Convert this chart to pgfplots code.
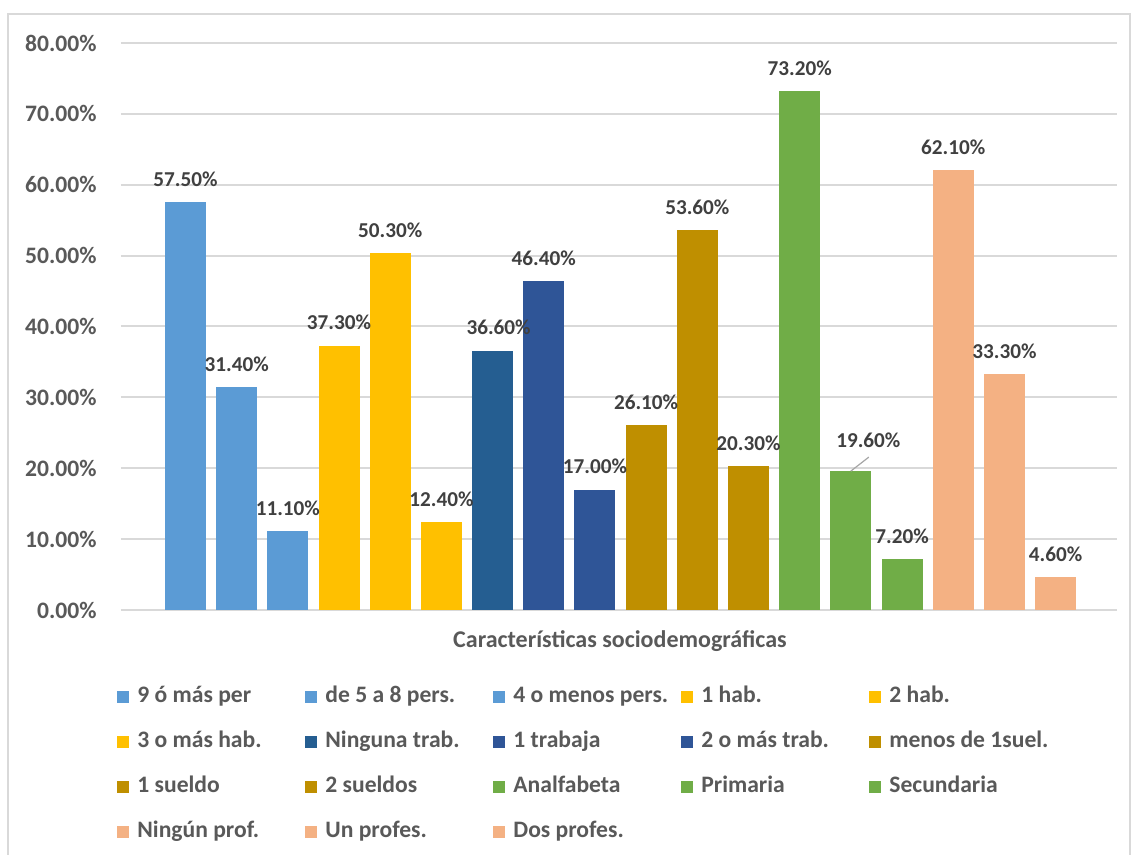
\documentclass[border=0pt]{standalone}
\usepackage{pgfplots}
\pgfplotsset{compat=1.18}
\usepackage{fontspec}
\setmainfont{Carlito}
\definecolor{cBlue}{HTML}{5B9BD5}
\definecolor{cYel}{HTML}{FFC000}
\definecolor{cDk1}{HTML}{255E91}
\definecolor{cDk2}{HTML}{2F5597}
\definecolor{cGold}{HTML}{BF8F00}
\definecolor{cGreen}{HTML}{70AD47}
\definecolor{cPeach}{HTML}{F4B183}
\definecolor{cGrid}{HTML}{D9D9D9}
\definecolor{cTick}{HTML}{595959}
\definecolor{cLab}{HTML}{404040}
\newcommand{\legtxt}[1]{\makebox[80pt][l]{#1}}
\begin{document}
\begin{tikzpicture}
\useasboundingbox (-60.5pt,-122.5pt) rectangle (508pt,305pt);
\fill[white] (-60.5pt,-122.5pt) rectangle (508pt,305pt);
\draw[cGrid, line width=0.8pt] (-56.5pt,-130pt) rectangle (504.5pt,298pt);
\begin{axis}[
  at={(0pt,0pt)}, anchor=south west,
  width=498pt, height=283.5pt, scale only axis,
  xmin=-1.26, xmax=18.2, ymin=0, ymax=80,
  clip=false,
  axis line style={draw=none},
  tick style={draw=none}, major tick length=0pt,
  xtick=\empty,
  ytick={0,10,...,80},
  ymajorgrids,
  major grid style={draw=cGrid, line width=1pt},
  yticklabel={\pgfmathprintnumber[fixed,fixed zerofill,precision=2,assume math mode=true]{\tick}\%},
  yticklabel style={font=\fontsize{11.8pt}{13pt}\selectfont\bfseries, text=cTick, inner sep=0pt, anchor=east, xshift=-12pt},
  xlabel={Características sociodemográficas},
  xlabel style={font=\fontsize{12pt}{14pt}\selectfont\bfseries, text=cTick, at={(axis description cs:0.501,0)}, anchor=center, yshift=-15.5pt},
  bar width=0.8,
  nodes near coords={\pgfmathprintnumber[fixed,fixed zerofill,precision=2,assume math mode=true]{\pgfplotspointmeta}\%},
  every node near coord/.append style={font=\fontsize{10.6pt}{12pt}\selectfont\bfseries, text=cLab, anchor=center, yshift=11.5pt},
  mybar/.style={ybar, bar shift=0pt, fill=#1, draw=none,
    legend image code/.code={\fill[##1] (0pt,-3pt) rectangle (6pt,3pt);}},
  legend columns=5,
  legend cell align=left,
  legend style={at={(0,0)}, anchor=north west, xshift=-2pt, yshift=-37.75pt,
    draw=none, fill=none, inner sep=0pt, row sep=11pt,
    font=\fontsize{11.8pt}{13pt}\selectfont\bfseries, text=cTick,
    nodes={inner xsep=4pt, inner ysep=0pt, text height=8.5pt, text depth=3pt}},
]
\addplot[mybar=cBlue] coordinates {(0,57.5)};
\addlegendentry{\legtxt{9 ó más per}}
\addplot[mybar=cBlue] coordinates {(1,31.4)};
\addlegendentry{\legtxt{de 5 a 8 pers.}}
\addplot[mybar=cBlue] coordinates {(2,11.1)};
\addlegendentry{\legtxt{4 o menos pers.}}
\addplot[mybar=cYel] coordinates {(3,37.3)};
\addlegendentry{\legtxt{1 hab.}}
\addplot[mybar=cYel] coordinates {(4,50.3)};
\addlegendentry{\legtxt{2 hab.}}
\addplot[mybar=cYel] coordinates {(5,12.4)};
\addlegendentry{\legtxt{3 o más hab.}}
\addplot[mybar=cDk1, every node near coord/.append style={xshift=3pt}] coordinates {(6,36.6)};
\addlegendentry{\legtxt{Ninguna trab.}}
\addplot[mybar=cDk2] coordinates {(7,46.4)};
\addlegendentry{\legtxt{1 trabaja}}
\addplot[mybar=cDk2] coordinates {(8,17.0)};
\addlegendentry{\legtxt{2 o más trab.}}
\addplot[mybar=cGold] coordinates {(9,26.1)};
\addlegendentry{\legtxt{menos de 1suel.}}
\addplot[mybar=cGold] coordinates {(10,53.6)};
\addlegendentry{\legtxt{1 sueldo}}
\addplot[mybar=cGold] coordinates {(11,20.3)};
\addlegendentry{\legtxt{2 sueldos}}
\addplot[mybar=cGreen] coordinates {(12,73.2)};
\addlegendentry{\legtxt{Analfabeta}}
\addplot[mybar=cGreen, every node near coord/.append style={xshift=8.75pt, yshift=4pt}] coordinates {(13,19.6)};
\addlegendentry{\legtxt{Primaria}}
\addplot[mybar=cGreen] coordinates {(14,7.2)};
\addlegendentry{\legtxt{Secundaria}}
\addplot[mybar=cPeach] coordinates {(15,62.1)};
\addlegendentry{\legtxt{Ningún prof.}}
\addplot[mybar=cPeach] coordinates {(16,33.3)};
\addlegendentry{\legtxt{Un profes.}}
\addplot[mybar=cPeach] coordinates {(17,4.6)};
\addlegendentry{\legtxt{Dos profes.}}
\draw[gray!70, line width=0.6pt] (axis cs:13,19.6) -- ++(9pt,7pt);
\end{axis}
\end{tikzpicture}
\end{document}
